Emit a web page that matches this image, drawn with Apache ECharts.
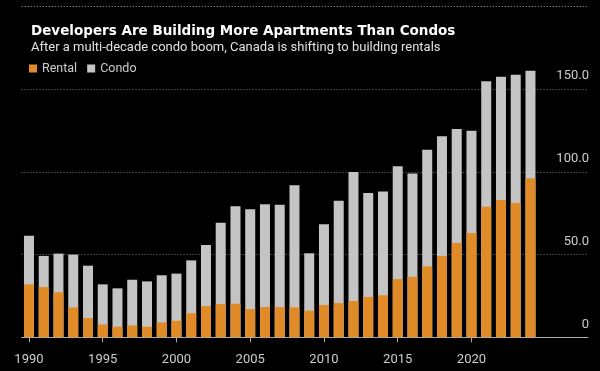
<!DOCTYPE html>
<html>
<head>
<meta charset="utf-8">
<script src="https://cdn.jsdelivr.net/npm/echarts@6/dist/echarts.min.js"></script>
<style>
html,body{margin:0;padding:0;background:#000;}
#c{width:600px;height:371px;}
</style>
</head>
<body>
<div id="c"></div>
<script>
var years = [1990,1991,1992,1993,1994,1995,1996,1997,1998,1999,2000,2001,2002,2003,2004,2005,2006,2007,2008,2009,2010,2011,2012,2013,2014,2015,2016,2017,2018,2019,2020,2021,2022,2023,2024];
var rental = [32.0,30.4,27.2,18.1,11.7,7.8,6.4,7.2,6.4,9.0,10.0,14.5,18.9,20.1,20.3,17.1,18.3,18.3,18.1,16.1,19.5,20.7,21.9,24.4,25.4,35.2,36.6,42.9,49.2,57.0,63.1,79.0,83.0,81.2,96.1];
var condo = [29.4,18.8,23.4,31.9,31.6,24.2,23.2,27.6,27.4,28.5,28.5,32.0,36.9,49.2,58.9,60.3,62.1,61.9,73.8,34.7,48.8,61.9,78.0,62.8,62.8,68.2,62.5,70.5,72.3,68.9,61.8,75.8,74.6,77.6,65.1];
var xTickLabels = [1990,1995,2000,2005,2010,2015,2020];

var font = 'Roboto';
var chart = echarts.init(document.getElementById('c'), null, {renderer:'canvas'});
// Condo sits on top of rental: drawn as the full stacked height, with rental overlaid at the bottom
var rentalData = years.map(function(y,i){ return [y, rental[i]]; });
var stackTopData = years.map(function(y,i){ return [y, rental[i] + condo[i]]; });
chart.setOption({
  backgroundColor:'#000',
  animation:false,
  graphic:[{type:'line', shape:{x1:22, y1:6.5, x2:588, y2:6.5},
    style:{stroke:'#777', lineWidth:1, lineDash:[1,2]}, silent:true}],
  title:{
    text:'Developers Are Building More Apartments Than Condos',
    subtext:'After a multi-decade condo boom, Canada is shifting to building rentals',
    left:26, top:19, itemGap:3,
    textStyle:{color:'#fff', fontFamily:'DejaVu Sans', fontWeight:'bold', fontSize:13.5},
    subtextStyle:{color:'#e0e0e0', fontFamily:font, fontSize:13}
  },
  legend:{
    left:24, top:57, icon:'rect', itemWidth:8, itemHeight:8, itemGap:10,
    textStyle:{color:'#ccc', fontFamily:font, fontSize:12.5},
    data:['Rental','Condo']
  },
  grid:{left:21.6, right:12, top:6.5, bottom:33.7, containLabel:false},
  xAxis:{
    type:'value', min:1989.5, max:2027.9,
    splitLine:{show:false},
    axisLine:{show:true, lineStyle:{color:'#aaa', width:1}},
    axisTick:{show:true, length:5, customValues:xTickLabels, lineStyle:{color:'#aaa'}},
    axisLabel:{customValues:xTickLabels, color:'#ccc', fontFamily:font, fontSize:13, margin:16,
      formatter:function(v){return String(v);}}
  },
  yAxis:{
    type:'value', position:'right', min:0, max:200, interval:50,
    axisLine:{show:false}, axisTick:{show:false},
    splitLine:{show:true, lineStyle:{color:'#777', type:[1,2], width:1}},
    axisLabel:{inside:true, align:'right', verticalAlign:'bottom', margin:-1,
      color:'#ccc', fontFamily:font, fontSize:13, lineHeight:14, padding:[0,0,6,0],
      formatter:function(v){ if(v===200) return ''; return v===0 ? '0' : v.toFixed(1); }}
  },
  series:[
    {name:'Condo', type:'bar', barWidth:10, barGap:'-100%', data:stackTopData, itemStyle:{color:'#C4C4C4'}, z:2},
    {name:'Rental', type:'bar', barWidth:10, barGap:'-100%', data:rentalData, itemStyle:{color:'#E08B27'}, z:3}
  ]
});
</script>
</body>
</html>
